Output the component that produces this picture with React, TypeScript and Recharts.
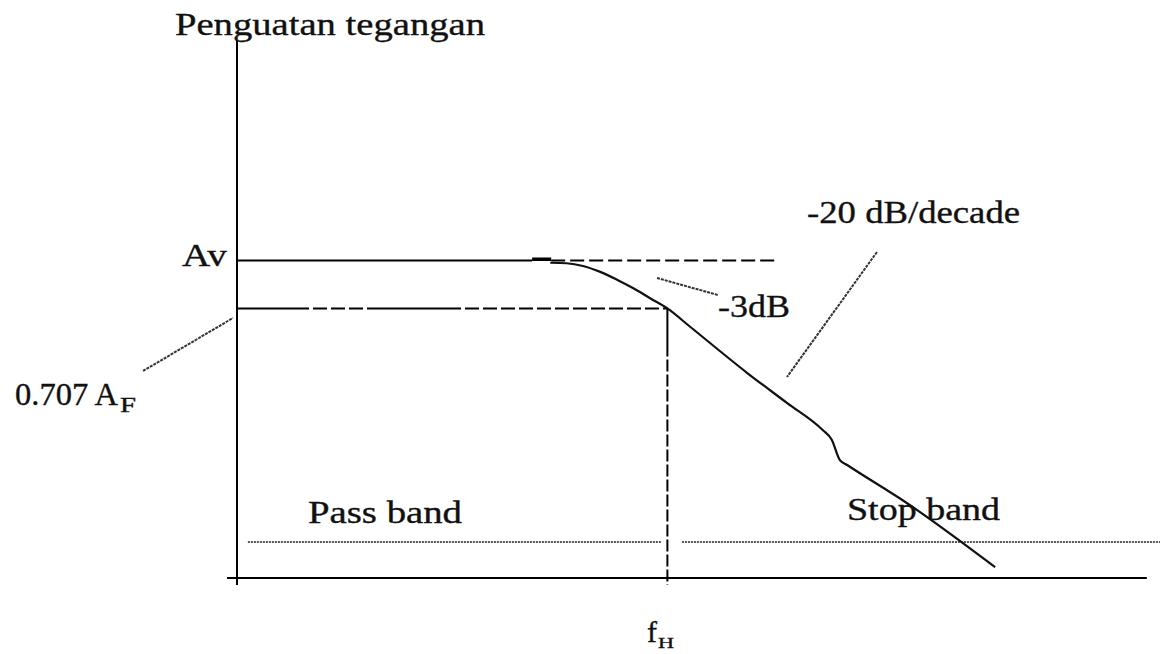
import React from "react";
import {
  ComposedChart,
  Line,
  XAxis,
  YAxis,
  ReferenceLine,
  ReferenceDot,
} from "recharts";

// Low-pass response, x = frequency position, y = voltage gain (schematic units)
const responseX = [
  34.5, 36.3, 38.1, 40.0, 41.9, 43.6, 45.5, 47.4, 49.9, 56.2, 60.6, 64.5, 65.5,
  66.4, 67.2, 73.8, 83.5,
];
const responseY = [
  58.6, 58.5, 58.0, 56.9, 55.4, 53.9, 52.0, 50.1, 46.7, 38.1, 32.5, 27.5, 25.7,
  21.9, 21.0, 13.9, 2.0,
];

// Reference levels
const AV_LEVEL = 59;
const CUTOFF_LEVEL = 50.1;
const F_H = 47.4;
const BAND_LEVEL = 6.7;

// Texts
const axisTitle = "Penguatan tegangan";
const avText = "Av";
const cutoffText = "0.707 A";
const cutoffSub = "F";
const dropText = "-3dB";
const slopeText = "-20 dB/decade";
const passText = "Pass band";
const stopText = "Stop band";
const fhText = "f";
const fhSub = "H";

const data = responseX.map((x, i) => ({ x, gain: responseY[i] }));

const W = 1160;
const H = 654;
const FONT = "'Liberation Serif', 'Times New Roman', serif";

// stroke pattern: listed segments, then `count` regular dash/gap pairs
function dashes(head: number[], dash: number, gap: number, count: number) {
  const parts = [...head];
  for (let i = 0; i < count; i++) parts.push(dash, gap);
  return parts.join(" ");
}

function note(
  text: string,
  width: number,
  size = 32,
  sub?: string,
  subWidth = 0,
  subDy = 7,
  subSize = 20,
  subGap = 0
) {
  return (p: any) => (
    <g fill="#111" stroke="#111" strokeWidth={0.35} fontFamily={FONT}>
      <text
        x={p.cx}
        y={p.cy}
        fontSize={size}
        textLength={width}
        lengthAdjust="spacingAndGlyphs"
      >
        {text}
      </text>
      {sub && (
        <text
          x={p.cx + width + subGap}
          y={p.cy + subDy}
          fontSize={subSize}
          textLength={subWidth}
          lengthAdjust="spacingAndGlyphs"
        >
          {sub}
        </text>
      )}
    </g>
  );
}

const leader = { stroke: "#333", strokeWidth: 2, strokeDasharray: "3 1" };
const band = { stroke: "#555", strokeWidth: 2, strokeDasharray: "2 1" };

export default function App() {
  return (
    <div style={{ position: "absolute", left: 0, top: 0, background: "#fff" }}>
      <ComposedChart
        width={W}
        height={H}
        data={data}
        margin={{ top: 40, right: 15, bottom: 76, left: 237 }}
      >
        <XAxis dataKey="x" type="number" domain={[0, 100]} hide />
        <YAxis type="number" domain={[0, 100]} hide />

        {/* axes */}
        <ReferenceLine
          segment={[{ x: 0, y: 100 }, { x: 0, y: -1.3 }]}
          stroke="#000"
          strokeWidth={2}
          ifOverflow="visible"
        />
        <ReferenceLine
          segment={[{ x: -1.1, y: 0 }, { x: 100.2, y: 0 }]}
          stroke="#000"
          strokeWidth={2}
          ifOverflow="visible"
        />

        {/* Av level */}
        <ReferenceLine
          segment={[{ x: 0, y: AV_LEVEL }, { x: 32.5, y: AV_LEVEL }]}
          stroke="#000"
          strokeWidth={2}
          ifOverflow="visible"
        />
        <ReferenceLine
          segment={[{ x: 32.5, y: AV_LEVEL + 0.25 }, { x: 34.6, y: AV_LEVEL + 0.25 }]}
          stroke="#000"
          strokeWidth={3.5}
          ifOverflow="visible"
        />
        <ReferenceLine
          segment={[{ x: 34.6, y: AV_LEVEL }, { x: 59.7, y: AV_LEVEL }]}
          stroke="#000"
          strokeWidth={2}
          strokeDasharray="14 5"
          ifOverflow="visible"
        />

        {/* 0.707 level and cutoff marker */}
        <ReferenceLine
          segment={[{ x: 0, y: CUTOFF_LEVEL }, { x: F_H, y: CUTOFF_LEVEL }]}
          stroke="#000"
          strokeWidth={2}
          strokeDasharray={dashes([72, 4, 14, 4, 14, 4, 14, 4, 94, 4], 14, 4, 12)}
          ifOverflow="visible"
        />
        <ReferenceLine
          segment={[{ x: F_H, y: CUTOFF_LEVEL }, { x: F_H, y: -1.3 }]}
          stroke="#000"
          strokeWidth={2}
          strokeDasharray={dashes([48, 3], 12, 3, 20)}
          ifOverflow="visible"
        />

        {/* band guides */}
        <ReferenceLine
          segment={[{ x: 1.2, y: BAND_LEVEL }, { x: 46.8, y: BAND_LEVEL }]}
          {...band}
          ifOverflow="visible"
        />
        <ReferenceLine
          segment={[{ x: 49.0, y: BAND_LEVEL }, { x: 101.7, y: BAND_LEVEL }]}
          {...band}
          ifOverflow="visible"
        />

        {/* leaders */}
        <ReferenceLine
          segment={[{ x: 46.26, y: 55.76 }, { x: 52.97, y: 52.6 }]}
          {...leader}
          ifOverflow="visible"
        />
        <ReferenceLine
          segment={[{ x: -10.35, y: 38.48 }, { x: -0.44, y: 48.33 }]}
          {...leader}
          ifOverflow="visible"
        />
        <ReferenceLine
          segment={[{ x: 70.48, y: 60.59 }, { x: 60.57, y: 37.36 }]}
          {...leader}
          ifOverflow="visible"
        />

        <Line
          type="monotone"
          dataKey="gain"
          stroke="#111"
          strokeWidth={2.2}
          dot={false}
          isAnimationActive={false}
        />

        {/* annotations */}
        <ReferenceDot x={-6.83} y={100.93} r={0} ifOverflow="visible" shape={note(axisTitle, 310)} />
        <ReferenceDot x={-6.06} y={57.99} r={0} ifOverflow="visible" shape={note(avText, 45)} />
        <ReferenceDot
          x={-24.45}
          y={32.16}
          r={0}
          ifOverflow="visible"
          shape={note(cutoffText, 103, 32, cutoffSub, 16, 7, 20, 2)}
        />
        <ReferenceDot x={52.97} y={48.51} r={0} ifOverflow="visible" shape={note(dropText, 72)} />
        <ReferenceDot x={62.78} y={65.99} r={0} ifOverflow="visible" shape={note(slopeText, 213)} />
        <ReferenceDot x={7.82} y={10.22} r={0} ifOverflow="visible" shape={note(passText, 154)} />
        <ReferenceDot x={67.18} y={10.78} r={0} ifOverflow="visible" shape={note(stopText, 153)} />
        <ReferenceDot
          x={45.15}
          y={-11.9}
          r={0}
          ifOverflow="visible"
          shape={note(fhText, 10, 30, fhSub, 16, 6, 15, 1)}
        />
      </ComposedChart>
    </div>
  );
}
